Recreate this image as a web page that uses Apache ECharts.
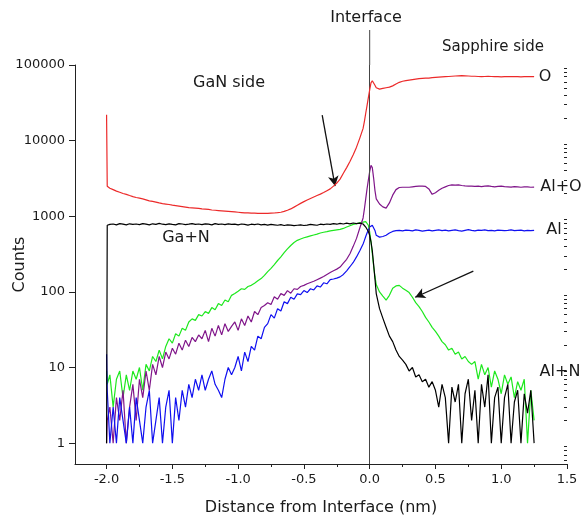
<!DOCTYPE html>
<html>
<head>
<meta charset="utf-8">
<title>Counts vs distance from interface</title>
<script src="https://cdn.jsdelivr.net/npm/echarts@6.0.0/dist/echarts.min.js"></script>
<style>
  html, body { margin: 0; padding: 0; background: #fff; }
  #chart { width: 584px; height: 519px; }
</style>
</head>
<body>
<div id="chart"></div>
<script>
// distance from interface (nm), shared by every profile
var xs = [
  -2.0, -1.995, -1.975, -1.95, -1.925, -1.9, -1.875, -1.85, -1.825, -1.8,
  -1.775, -1.75, -1.725, -1.7, -1.675, -1.65, -1.625, -1.6, -1.575, -1.55,
  -1.525, -1.5, -1.475, -1.45, -1.425, -1.4, -1.375, -1.35, -1.325, -1.3,
  -1.275, -1.25, -1.225, -1.2, -1.175, -1.15, -1.125, -1.1, -1.075, -1.05,
  -1.025, -1.0, -0.975, -0.95, -0.925, -0.9, -0.875, -0.85, -0.825, -0.8,
  -0.775, -0.75, -0.725, -0.7, -0.675, -0.65, -0.625, -0.6, -0.575, -0.55,
  -0.525, -0.5, -0.475, -0.45, -0.425, -0.4, -0.375, -0.35, -0.325, -0.3,
  -0.275, -0.25, -0.225, -0.2, -0.175, -0.15, -0.125, -0.1, -0.075, -0.05,
  -0.04, -0.03, -0.02, -0.01, 0.0, 0.01, 0.02, 0.03, 0.04,
  0.05, 0.075, 0.1, 0.125, 0.15, 0.175, 0.2, 0.225, 0.25, 0.275,
  0.3, 0.325, 0.35, 0.375, 0.4, 0.425, 0.45, 0.475, 0.5, 0.525,
  0.55, 0.575, 0.6, 0.625, 0.65, 0.675, 0.7, 0.725, 0.75, 0.775,
  0.8, 0.825, 0.85, 0.875, 0.9, 0.925, 0.95, 0.975, 1.0, 1.025,
  1.05, 1.075, 1.1, 1.125, 1.15, 1.175, 1.2, 1.225, 1.25
];

var countsO = [
  22000, 2500, 2350, 2250, 2150, 2080, 2000, 1950, 1880, 1820,
  1770, 1740, 1700, 1650, 1600, 1570, 1540, 1500, 1470, 1450,
  1430, 1400, 1380, 1360, 1340, 1320, 1300, 1290, 1280, 1270,
  1250, 1240, 1230, 1210, 1200, 1190, 1180, 1170, 1160, 1150,
  1140, 1130, 1120, 1110, 1110, 1100, 1100, 1090, 1090, 1090,
  1095, 1100, 1105, 1115, 1130, 1160, 1200, 1250, 1320, 1400,
  1480, 1560, 1640, 1720, 1800, 1880, 1960, 2060, 2180, 2300,
  2500, 2750, 3100, 3700, 4400, 5300, 6500, 8200, 10800, 14500,
  18000, 23000, 29000, 37000, 47000, 58000, 62000, 59000, 54000,
  50000, 48000, 49000, 50000, 51000, 53000, 56000, 59000, 61000, 62000,
  63000, 64000, 65000, 66000, 66500, 67000, 67000, 68000, 68500, 69000,
  69500, 70000, 70500, 71000, 71500, 72000, 72500, 72000, 71500, 71000,
  71000, 70500, 70000, 70500, 71000, 70500, 70000, 70000, 69500, 70000,
  70000, 70500, 70000, 70000, 69500, 70000, 70000, 70500, 70000
];

var countsAlO = [
  1, 2, 3, 1, 4, 2, 5, 1, 3, 6,
  2, 7, 4, 9, 5, 11, 8, 14, 10, 16,
  13, 18, 15, 21, 17, 23, 19, 25, 22, 27,
  24, 31, 22, 33, 26, 36, 27, 38, 30, 35,
  40, 31, 44, 36, 48, 40, 55, 50, 62, 66,
  72, 68, 86, 80, 95, 90, 104, 96, 110, 108,
  118, 122, 128, 133, 138, 145, 152, 160, 170, 180,
  190, 200, 213, 240, 270, 320, 400, 510, 700, 950,
  1250, 1700, 2300, 3000, 3900, 4700, 4400, 3200, 2200,
  1700, 1450, 1330, 1280, 1500, 1900, 2250, 2400, 2420, 2420,
  2420, 2450, 2480, 2500, 2500, 2480, 2300, 1950, 2050, 2200,
  2350, 2450, 2550, 2600, 2580, 2600, 2550, 2520, 2500, 2500,
  2480, 2500, 2470, 2500, 2520, 2480, 2450, 2480, 2500, 2460,
  2450, 2430, 2470, 2450, 2420, 2440, 2450, 2420, 2430
];

var countsAl = [
  15, 5, 1, 3, 1, 4, 2, 1, 3, 1,
  4, 2, 1, 3, 5, 1, 2, 4, 1, 3,
  5, 1, 4, 2, 5, 3, 6, 4, 7, 5,
  8, 5, 7, 9, 6, 5, 4, 7, 10, 8,
  10, 14, 9, 16, 12, 19, 17, 26, 24, 34,
  38, 50, 45, 60, 56, 74, 70, 85, 80, 94,
  92, 104, 98, 110, 106, 120, 116, 132, 128, 145,
  148, 152, 158, 170, 190, 215, 245, 290, 350, 430,
  480, 540, 600, 660, 720, 750, 760, 740, 650,
  560, 530, 540, 560, 600, 630, 645, 650, 640, 655,
  650, 640, 660, 650, 635, 645, 655, 640, 650, 660,
  645, 655, 640, 650, 660, 645, 635, 650, 665, 650,
  640, 655, 650, 660, 645, 650, 640, 655, 650, 645,
  650, 660, 645, 650, 655, 640, 650, 645, 650
];

var countsGaN = [
  1, 760, 780, 790, 770, 800, 785, 770, 795, 780,
  790, 775, 800, 785, 770, 795, 780, 805, 785, 775,
  795, 780, 770, 800, 790, 775, 785, 800, 780, 790,
  775, 795, 785, 770, 800, 780, 790, 775, 795, 780,
  785, 770, 790, 780, 765, 785, 775, 790, 770, 780,
  765, 780, 770, 760, 775, 755, 770, 765, 750, 760,
  770, 755, 765, 780, 770, 760, 785, 775, 790, 780,
  800, 785, 805, 790, 810, 795, 815, 800, 810, 790,
  760, 720, 680, 630, 560, 460, 350, 230, 150,
  95, 60, 45, 34, 26, 22, 17, 14, 12.5, 11,
  9, 10, 7.5, 8, 6.5, 7, 5.5, 6.5, 5, 3,
  6, 4, 1, 5.5, 3.5, 6, 1, 4.5, 7, 2,
  5, 1, 6, 3, 8, 1, 4, 5.5, 1, 4,
  6, 1, 3.5, 5, 1, 4.5, 2.5, 5, 1
];

var countsAlN = [
  9, 6, 8, 3, 7, 9, 4, 8, 5, 9,
  7, 10, 5, 11, 9, 14, 12, 17, 13, 19,
  24, 21, 28, 26, 33, 31, 40, 44, 42, 50,
  48, 55, 52, 62, 58, 70, 66, 78, 74, 90,
  95, 102, 110, 108, 118, 122, 130, 140, 150, 165,
  185, 205, 230, 260, 290, 330, 370, 410, 450, 480,
  500, 520, 535, 550, 565, 580, 600, 615, 625, 640,
  650, 660, 670, 690, 720, 750, 780, 800, 820, 835,
  845, 850, 830, 760, 620, 460, 320, 220, 160,
  125, 100, 88, 78, 90, 112, 120, 122, 112, 105,
  98, 85, 72, 64, 55, 46, 40, 34, 30, 26,
  22, 20, 17, 18, 15, 16, 13, 14, 12, 11,
  12, 7, 11, 8, 10, 5.5, 9, 7, 4.5, 8,
  6, 7.5, 4, 6.5, 5, 7, 1, 5, 2
];

// tick values
var xMajor = [-2.0, -1.5, -1.0, -0.5, 0.0, 0.5, 1.0, 1.5];
var xMinor = [-1.75, -1.25, -0.75, -0.25, 0.25, 0.75, 1.25];
var yMajor = [1, 10, 100, 1000, 10000, 100000];
var yMinor = [0.6, 0.7, 0.8, 0.9,
  2, 3, 4, 5, 6, 7, 8, 9,
  20, 30, 40, 50, 60, 70, 80, 90,
  200, 300, 400, 500, 600, 700, 800, 900,
  2000, 3000, 4000, 5000, 6000, 7000, 8000, 9000,
  20000, 30000, 40000, 50000, 60000, 70000, 80000, 90000];

// arrows: [tail, head] in data units
var arrowInterfaceO = [[-0.361, 21800], [-0.263, 2510]];
var arrowAlN = [[0.788, 188], [0.346, 85]];

var FONT = 'DejaVu Sans';
var INK = '#1a1a1a';

function pairs(ys) {
  return xs.map(function (x, i) { return [x, ys[i]]; });
}

function profile(name, ys, color, z) {
  return {
    name: name,
    type: 'line',
    data: pairs(ys),
    showSymbol: false,
    symbol: 'none',
    z: z,
    lineStyle: { width: 1.2, color: color },
    itemStyle: { color: color },
    emphasis: { disabled: true }
  };
}

var chart = echarts.init(document.getElementById('chart'));

var series = [
  profile('Al+N', countsAlN, '#1ee81e', 2),
  profile('Al+O', countsAlO, '#80168a', 3),
  profile('Al', countsAl, '#1010f0', 4),
  profile('Ga+N', countsGaN, '#000000', 5),
  profile('O', countsO, '#ec2a2a', 6)
];

series[4].markLine = {
  silent: true,
  symbol: 'none',
  label: { show: false },
  lineStyle: { color: '#444', width: 1, type: 'solid' },
  data: [{ xAxis: 0 }]
};
series[3].markLine = {
  silent: true,
  symbol: ['none', 'arrow'],
  symbolSize: [8, 10],
  label: { show: false },
  lineStyle: { color: '#111', width: 1.3, type: 'solid' },
  data: [
    [{ coord: arrowInterfaceO[0] }, { coord: arrowInterfaceO[1] }],
    [{ coord: arrowAlN[0] }, { coord: arrowAlN[1] }]
  ]
};

var option = {
  animation: false,
  backgroundColor: '#fff',
  grid: { left: 75, right: 17, top: 65, bottom: 55, containLabel: false, outerBoundsMode: 'none' },
  xAxis: [{
    type: 'value',
    min: -2.24,
    max: 1.5,
    name: 'Distance from Interface (nm)',
    nameLocation: 'middle',
    nameGap: 36,
    nameMoveOverlap: false,
    nameTextStyle: { fontFamily: FONT, fontSize: 16, color: INK },
    axisLine: { show: true, onZero: false, lineStyle: { color: '#222', width: 1 } },
    axisTick: { show: true, customValues: xMajor, length: 5, lineStyle: { color: '#222' } },
    axisLabel: {
      customValues: xMajor, margin: 9, fontFamily: FONT, fontSize: 13, color: INK,
      formatter: function (v) { return Number(v).toFixed(1); }
    },
    splitLine: { show: false }
  }, {
    type: 'value',
    position: 'top',
    offset: -399,
    min: -2.24,
    max: 1.5,
    axisLine: { show: false },
    axisTick: { show: true, inside: true, customValues: xMinor, length: 3, lineStyle: { color: '#222' } },
    axisLabel: { show: false },
    splitLine: { show: false }
  }],
  yAxis: [{
    type: 'log',
    logBase: 10,
    min: 0.53,
    max: 100000,
    name: 'Counts',
    nameLocation: 'middle',
    nameGap: 47,
    nameMoveOverlap: false,
    nameTextStyle: { fontFamily: FONT, fontSize: 16, color: INK },
    axisLine: { show: true, onZero: false, lineStyle: { color: '#222', width: 1 } },
    axisTick: { show: true, customValues: yMajor, length: 6, lineStyle: { color: '#222' } },
    axisLabel: {
      customValues: yMajor, margin: 10, fontFamily: FONT, fontSize: 13, color: INK,
      formatter: function (v) { return String(Math.round(v)); }
    },
    splitLine: { show: false }
  }, {
    type: 'log',
    logBase: 10,
    position: 'right',
    offset: -492,
    min: 0.53,
    max: 100000,
    axisLine: { show: false },
    axisTick: { show: true, inside: true, customValues: yMinor, length: 3, lineStyle: { color: '#222' } },
    axisLabel: { show: false },
    splitLine: { show: false }
  }],
  series: series
};

chart.setOption(option);

// texts placed around the plot, plus the part of the interface line above the frame
var px0 = chart.convertToPixel({ xAxisIndex: 0 }, 0);
var notes = [
  ['Interface', 366, 18, 16],
  ['Sapphire side', 493, 47, 15],
  ['GaN side', 229, 83, 16],
  ['O', 545, 77, 16],
  ['Al+O', 561, 187, 16],
  ['Al', 554, 230, 16],
  ['Al+N', 560, 372, 16],
  ['Ga+N', 186, 238, 16]
];
var graphic = notes.map(function (n) {
  return {
    type: 'text',
    x: n[1],
    y: n[2],
    z: 100,
    style: {
      text: n[0],
      fill: INK,
      font: n[3] + 'px "' + FONT + '"',
      align: 'center',
      verticalAlign: 'middle'
    }
  };
});
graphic.push({
  type: 'line',
  z: 100,
  shape: { x1: px0, y1: 30, x2: px0, y2: 65 },
  style: { stroke: '#444', lineWidth: 1 }
});
chart.setOption({ graphic: graphic });
</script>
</body>
</html>
